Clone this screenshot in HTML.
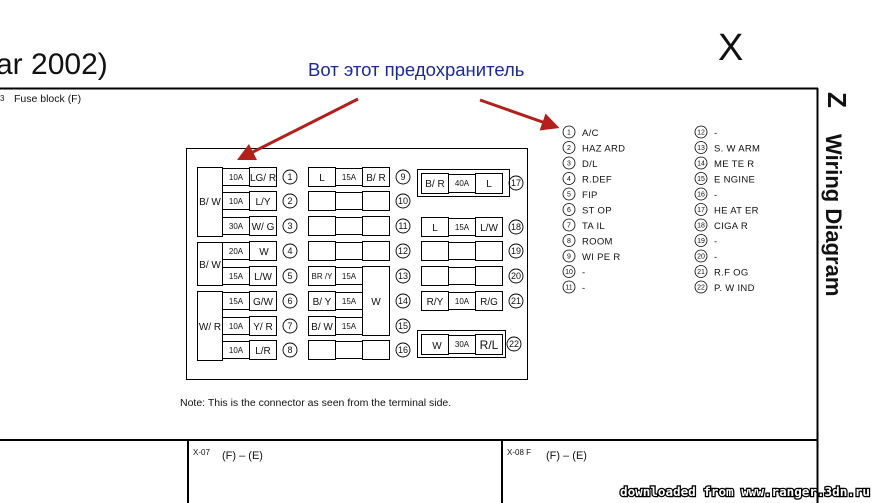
<!DOCTYPE html>
<html><head><meta charset="utf-8"><style>
html,body{margin:0;padding:0;background:#fff;width:874px;height:503px;overflow:hidden}
svg{display:block}
text{font-family:"Liberation Sans",sans-serif;fill:#111}
.s{font-size:8px}
.m{font-size:10px}
.c{font-size:9px}
.l{font-size:9.5px;letter-spacing:0.3px}
</style></head><body>
<svg width="874" height="503" viewBox="0 0 874 503" xmlns="http://www.w3.org/2000/svg">
<defs>
<marker id="ah" markerWidth="6" markerHeight="6" refX="3" refY="3" orient="auto" markerUnits="strokeWidth">
<path d="M0,0 L6,3 L0,6 z" fill="#b3201c"/></marker>
</defs>
<text x="-4" y="74" style="font-size:30px">ar 2002)</text>
<text x="718" y="60" style="font-size:38px">X</text>
<text x="308" y="76" style="font-size:18.5px;fill:#1a2a9a">Вот этот предохранитель</text>
<line x1="0" y1="88.5" x2="818" y2="88.5" stroke="#000" stroke-width="2"/>
<line x1="817.5" y1="88" x2="817.5" y2="503" stroke="#000" stroke-width="2"/>
<text x="0" y="101" class="s">3</text>
<text x="14" y="102" style="font-size:10.5px">Fuse block (F)</text>
<text transform="translate(828,92) rotate(90)" style="font-size:26px;font-weight:bold">Z</text>
<text transform="translate(826,134) rotate(90)" style="font-size:22px;font-weight:bold">Wiring Diagram</text>
<rect x="186.5" y="148.5" width="341" height="231" fill="none" stroke="#000" stroke-width="1"/>
<g fill="none" stroke="#000" stroke-width="1">
<rect x="197.5" y="167.5" width="25" height="69"/>
<rect x="197.5" y="242.5" width="25" height="43"/>
<rect x="197.5" y="291.5" width="25" height="69"/>
</g>
<g fill="#fff" stroke="#000" stroke-width="1">
<rect x="222.5" y="168.5" width="27" height="17"/><rect x="249.5" y="167.5" width="27" height="19"/>
<rect x="222.5" y="192.5" width="27" height="17"/><rect x="249.5" y="191.5" width="27" height="19"/>
<rect x="222.5" y="217.5" width="27" height="17"/><rect x="249.5" y="216.5" width="27" height="19"/>
<rect x="222.5" y="242.5" width="27" height="17"/><rect x="249.5" y="241.5" width="27" height="19"/>
<rect x="222.5" y="267.5" width="27" height="17"/><rect x="249.5" y="266.5" width="27" height="19"/>
<rect x="222.5" y="292.5" width="27" height="17"/><rect x="249.5" y="291.5" width="27" height="19"/>
<rect x="222.5" y="317.5" width="27" height="17"/><rect x="249.5" y="316.5" width="27" height="19"/>
<rect x="222.5" y="341.5" width="27" height="17"/><rect x="249.5" y="340.5" width="27" height="19"/>
<rect x="308.5" y="167.5" width="27" height="19"/><rect x="335.5" y="168.5" width="27" height="17"/><rect x="362.5" y="167.5" width="27" height="19"/>
<rect x="308.5" y="191.5" width="27" height="19"/><rect x="335.5" y="192.5" width="27" height="17"/><rect x="362.5" y="191.5" width="27" height="19"/>
<rect x="308.5" y="216.5" width="27" height="19"/><rect x="335.5" y="217.5" width="27" height="17"/><rect x="362.5" y="216.5" width="27" height="19"/>
<rect x="308.5" y="241.5" width="27" height="19"/><rect x="335.5" y="242.5" width="27" height="17"/><rect x="362.5" y="241.5" width="27" height="19"/>
<rect x="308.5" y="266.5" width="27" height="19"/><rect x="335.5" y="267.5" width="27" height="17"/>
<rect x="308.5" y="291.5" width="27" height="19"/><rect x="335.5" y="292.5" width="27" height="17"/>
<rect x="308.5" y="316.5" width="27" height="19"/><rect x="335.5" y="317.5" width="27" height="17"/>
<rect x="362.5" y="266.5" width="27" height="69"/>
<rect x="308.5" y="340.5" width="27" height="19"/><rect x="335.5" y="341.5" width="27" height="17"/><rect x="362.5" y="340.5" width="27" height="19"/>
<rect x="417.5" y="169.5" width="92" height="27"/>
<rect x="421.5" y="173.5" width="27" height="20"/><rect x="448.5" y="174.5" width="27" height="18"/><rect x="475.5" y="173.5" width="27" height="20"/>
<rect x="421.5" y="217.5" width="27" height="19"/><rect x="448.5" y="218.5" width="27" height="17"/><rect x="475.5" y="217.5" width="27" height="19"/>
<rect x="421.5" y="241.5" width="27" height="19"/><rect x="448.5" y="242.5" width="27" height="17"/><rect x="475.5" y="241.5" width="27" height="19"/>
<rect x="421.5" y="266.5" width="27" height="19"/><rect x="448.5" y="267.5" width="27" height="17"/><rect x="475.5" y="266.5" width="27" height="19"/>
<rect x="421.5" y="291.5" width="27" height="19"/><rect x="448.5" y="292.5" width="27" height="17"/><rect x="475.5" y="291.5" width="27" height="19"/>
<rect x="417.5" y="330.5" width="88" height="27"/>
<rect x="421.5" y="334.5" width="27" height="20"/><rect x="448.5" y="335.5" width="27" height="18"/><rect x="475.5" y="334.5" width="27" height="20"/>
</g>
<g class="m" text-anchor="middle">
<text x="210" y="205">B/ W</text><text x="210" y="268">B/ W</text><text x="210" y="330">W/ R</text>
<text x="263" y="181">LG/ R</text><text x="263" y="205">L/Y</text><text x="263" y="230">W/ G</text>
<text x="264" y="255">W</text><text x="263" y="280">L/W</text><text x="263" y="305">G/W</text>
<text x="263" y="330">Y/ R</text><text x="263" y="354">L/R</text>
<text x="322" y="181">L</text><text x="376" y="181">B/ R</text>
<text x="322" y="305">B/ Y</text><text x="322" y="330">B/ W</text>
<text x="376" y="305">W</text>
<text x="435" y="187">B/ R</text><text x="489" y="187">L</text>
<text x="435" y="231">L</text><text x="489" y="231">L/W</text>
<text x="435" y="305">R/Y</text><text x="489" y="305">R/G</text>
<text x="437" y="349">W</text><text x="489" y="349" style="font-size:12px">R/L</text>
</g>
<g class="s" text-anchor="middle">
<text x="236" y="180">10A</text><text x="236" y="204">10A</text><text x="236" y="229">30A</text>
<text x="236" y="254">20A</text><text x="236" y="279">15A</text><text x="236" y="304">15A</text>
<text x="236" y="329">10A</text><text x="236" y="353">10A</text>
<text x="349" y="180">15A</text><text x="322" y="279">BR /Y</text><text x="349" y="279">15A</text>
<text x="349" y="304">15A</text><text x="349" y="329">15A</text>
<text x="462" y="186">40A</text><text x="462" y="230">15A</text><text x="462" y="304">10A</text><text x="462" y="347">30A</text>
</g>
<g fill="none" stroke="#000" stroke-width="0.9">
<circle cx="290" cy="177" r="7"/><circle cx="290" cy="201" r="7"/><circle cx="290" cy="226" r="7"/><circle cx="290" cy="251" r="7"/>
<circle cx="290" cy="276" r="7"/><circle cx="290" cy="301" r="7"/><circle cx="290" cy="326" r="7"/><circle cx="290" cy="350" r="7"/>
<circle cx="403" cy="177" r="7"/><circle cx="403" cy="201" r="7"/><circle cx="403" cy="226" r="7"/><circle cx="403" cy="251" r="7"/>
<circle cx="403" cy="276" r="7"/><circle cx="403" cy="301" r="7"/><circle cx="403" cy="326" r="7"/><circle cx="403" cy="350" r="7"/>
<circle cx="516" cy="183" r="7"/><circle cx="516" cy="227" r="7"/><circle cx="516" cy="251" r="7"/><circle cx="516" cy="276" r="7"/>
<circle cx="516" cy="301" r="7"/><circle cx="514" cy="344" r="7"/>
</g>
<g class="c" text-anchor="middle">
<text x="290" y="180">1</text><text x="290" y="204">2</text><text x="290" y="229">3</text><text x="290" y="254">4</text>
<text x="290" y="279">5</text><text x="290" y="304">6</text><text x="290" y="329">7</text><text x="290" y="353">8</text>
<text x="403" y="180">9</text><text x="403" y="204">10</text><text x="403" y="229">11</text><text x="403" y="254">12</text>
<text x="403" y="279">13</text><text x="403" y="304">14</text><text x="403" y="329">15</text><text x="403" y="353">16</text>
<text x="516" y="186">17</text><text x="516" y="230">18</text><text x="516" y="254">19</text><text x="516" y="279">20</text>
<text x="516" y="304">21</text><text x="514" y="347">22</text>
</g>
<text x="180" y="406" style="font-size:10.5px">Note: This is the connector as seen from the terminal side.</text>
<g fill="none" stroke="#000" stroke-width="0.8">
<circle cx="569" cy="132" r="6"/><circle cx="569" cy="147.5" r="6"/><circle cx="569" cy="163" r="6"/><circle cx="569" cy="178.5" r="6"/>
<circle cx="569" cy="194" r="6"/><circle cx="569" cy="209.5" r="6"/><circle cx="569" cy="225" r="6"/><circle cx="569" cy="240.5" r="6"/>
<circle cx="569" cy="256" r="6"/><circle cx="569" cy="271.5" r="6"/><circle cx="569" cy="287" r="6"/>
<circle cx="701" cy="132" r="6"/><circle cx="701" cy="147.5" r="6"/><circle cx="701" cy="163" r="6"/><circle cx="701" cy="178.5" r="6"/>
<circle cx="701" cy="194" r="6"/><circle cx="701" cy="209.5" r="6"/><circle cx="701" cy="225" r="6"/><circle cx="701" cy="240.5" r="6"/>
<circle cx="701" cy="256" r="6"/><circle cx="701" cy="271.5" r="6"/><circle cx="701" cy="287" r="6"/>
</g>
<g style="font-size:7px" text-anchor="middle">
<text x="569" y="134.5">1</text><text x="569" y="150">2</text><text x="569" y="165.5">3</text><text x="569" y="181">4</text>
<text x="569" y="196.5">5</text><text x="569" y="212">6</text><text x="569" y="227.5">7</text><text x="569" y="243">8</text>
<text x="569" y="258.5">9</text><text x="569" y="274">10</text><text x="569" y="289.5">11</text>
<text x="701" y="134.5">12</text><text x="701" y="150">13</text><text x="701" y="165.5">14</text><text x="701" y="181">15</text>
<text x="701" y="196.5">16</text><text x="701" y="212">17</text><text x="701" y="227.5">18</text><text x="701" y="243">19</text>
<text x="701" y="258.5">20</text><text x="701" y="274">21</text><text x="701" y="289.5">22</text>
</g>
<g class="l">
<text x="582" y="136">A/C</text><text x="582" y="151.5">HAZ ARD</text><text x="582" y="167">D/L</text><text x="582" y="182.5">R.DEF</text>
<text x="582" y="198">FIP</text><text x="582" y="213.5">ST OP</text><text x="582" y="229">TA IL</text><text x="582" y="244.5">ROOM</text>
<text x="582" y="260">WI PE R</text><text x="582" y="275.5">-</text><text x="582" y="291">-</text>
<text x="714" y="136">-</text><text x="714" y="151.5">S. W ARM</text><text x="714" y="167">ME TE R</text><text x="714" y="182.5">E NGINE</text>
<text x="714" y="198">-</text><text x="714" y="213.5">HE AT ER</text><text x="714" y="229">CIGA R</text><text x="714" y="244.5">-</text>
<text x="714" y="260">-</text><text x="714" y="275.5">R.F OG</text><text x="714" y="291">P. W IND</text>
</g>
<line x1="358" y1="99" x2="245" y2="156" stroke="#b3201c" stroke-width="3" marker-end="url(#ah)"/>
<line x1="480" y1="100" x2="551" y2="125" stroke="#b3201c" stroke-width="3" marker-end="url(#ah)"/>
<line x1="0" y1="440" x2="818" y2="440" stroke="#000" stroke-width="2"/>
<line x1="188" y1="440" x2="188" y2="503" stroke="#000" stroke-width="2"/>
<line x1="502" y1="440" x2="502" y2="503" stroke="#000" stroke-width="2"/>
<text x="193" y="455" style="font-size:8px">X-07</text>
<text x="222" y="459" style="font-size:11px">(F) – (E)</text>
<text x="507" y="455" style="font-size:8px">X-08 F</text>
<text x="546" y="459" style="font-size:11px">(F) – (E)</text>
<text x="620" y="496" textLength="250" lengthAdjust="spacingAndGlyphs" style="font-family:'DejaVu Sans Mono','Liberation Mono',monospace;font-size:12px;font-weight:bold;fill:#fff;stroke:#000;stroke-width:2.5px;paint-order:stroke">downloaded from www.ranger.3dn.ru</text>
</svg>
</body></html>
